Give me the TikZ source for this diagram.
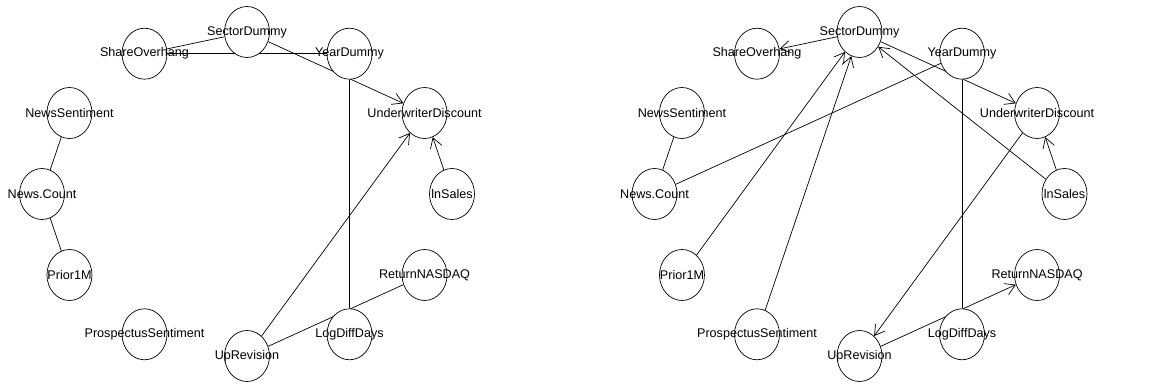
\documentclass[tikz,border=0pt]{standalone}
\usepackage{fontspec}
\setmainfont{Liberation Sans}
\usetikzlibrary{shapes.geometric,arrows.meta,calc,backgrounds}
\begin{document}
\begin{tikzpicture}[x=1pt,y=1pt,
  vnode/.style={ellipse, draw, fill=white, line width=0.7pt, minimum width=45pt, minimum height=51pt, inner sep=0pt,
    label={[font=\fontsize{12.6}{14}\selectfont, inner sep=0pt]center:#1}},
  edge/.style={line width=0.7pt},
  arr/.style={edge, -{Straight Barb[length=10pt,width=12pt]}}]
\useasboundingbox (0,0) rectangle (1155,385);
\coordinate (L) at (247,191);
\coordinate (R) at (859.5,191);
% left graph
\node[vnode=SectorDummy] (aSD) at ($(L)+(90:205 and 162)$) {};
\node[vnode=YearDummy] (aYD) at ($(L)+(60:205 and 162)$) {};
\node[vnode=UnderwriterDiscount] (aUD) at ($(L)+(30:205 and 162)$) {};
\node[vnode=lnSales] (aIS) at ($(L)+(0:205 and 162)$) {};
\node[vnode=ReturnNASDAQ] (aRN) at ($(L)+(-30:205 and 162)$) {};
\node[vnode=LogDiffDays] (aLD) at ($(L)+(-60:205 and 162)$) {};
\node[vnode=UpRevision] (aUR) at ($(L)+(-90:205 and 162)$) {};
\node[vnode=ProspectusSentiment] (aPS) at ($(L)+(-120:205 and 162)$) {};
\node[vnode=Prior1M] (aPM) at ($(L)+(-150:205 and 162)$) {};
\node[vnode=News.Count] (aNC) at ($(L)+(180:205 and 162)$) {};
\node[vnode=NewsSentiment] (aNS) at ($(L)+(150:205 and 162)$) {};
\node[vnode=ShareOverhang] (aSO) at ($(L)+(120:205 and 162)$) {};
% right graph
\node[vnode=SectorDummy] (bSD) at ($(R)+(90:205 and 162)$) {};
\node[vnode=YearDummy] (bYD) at ($(R)+(60:205 and 162)$) {};
\node[vnode=UnderwriterDiscount] (bUD) at ($(R)+(30:205 and 162)$) {};
\node[vnode=lnSales] (bIS) at ($(R)+(0:205 and 162)$) {};
\node[vnode=ReturnNASDAQ] (bRN) at ($(R)+(-30:205 and 162)$) {};
\node[vnode=LogDiffDays] (bLD) at ($(R)+(-60:205 and 162)$) {};
\node[vnode=UpRevision] (bUR) at ($(R)+(-90:205 and 162)$) {};
\node[vnode=ProspectusSentiment] (bPS) at ($(R)+(-120:205 and 162)$) {};
\node[vnode=Prior1M] (bPM) at ($(R)+(-150:205 and 162)$) {};
\node[vnode=News.Count] (bNC) at ($(R)+(180:205 and 162)$) {};
\node[vnode=NewsSentiment] (bNS) at ($(R)+(150:205 and 162)$) {};
\node[vnode=ShareOverhang] (bSO) at ($(R)+(120:205 and 162)$) {};
\begin{scope}[on background layer]
% left edges
\draw[edge] (aSO) -- (aSD);
\draw[edge] (aSO) -- (aYD);
\draw[arr] (aSD) -- (aUD);
\draw[edge] (aNS) -- (aNC);
\draw[edge] (aNC) -- (aPM);
\draw[edge] (aYD) -- (aLD);
\draw[arr] (aUR) -- (aUD);
\draw[arr] (aIS) -- (aUD);
\draw[edge] (aUR) -- (aRN);
% right edges
\draw[arr] (bSD) -- (bSO);
\draw[arr] (bSD) -- (bUD);
\draw[edge] (bNC) -- (bYD);
\draw[edge] (bNS) -- (bNC);
\draw[arr] (bPM) -- (bSD);
\draw[arr] (bPS) -- (bSD);
\draw[arr] (bIS) -- (bSD);
\draw[arr] (bIS) -- (bUD);
\draw[arr] (bUD) -- (bUR);
\draw[edge] (bYD) -- (bLD);
\draw[arr] (bUR) -- (bRN);
\end{scope}
\end{tikzpicture}
\end{document}
